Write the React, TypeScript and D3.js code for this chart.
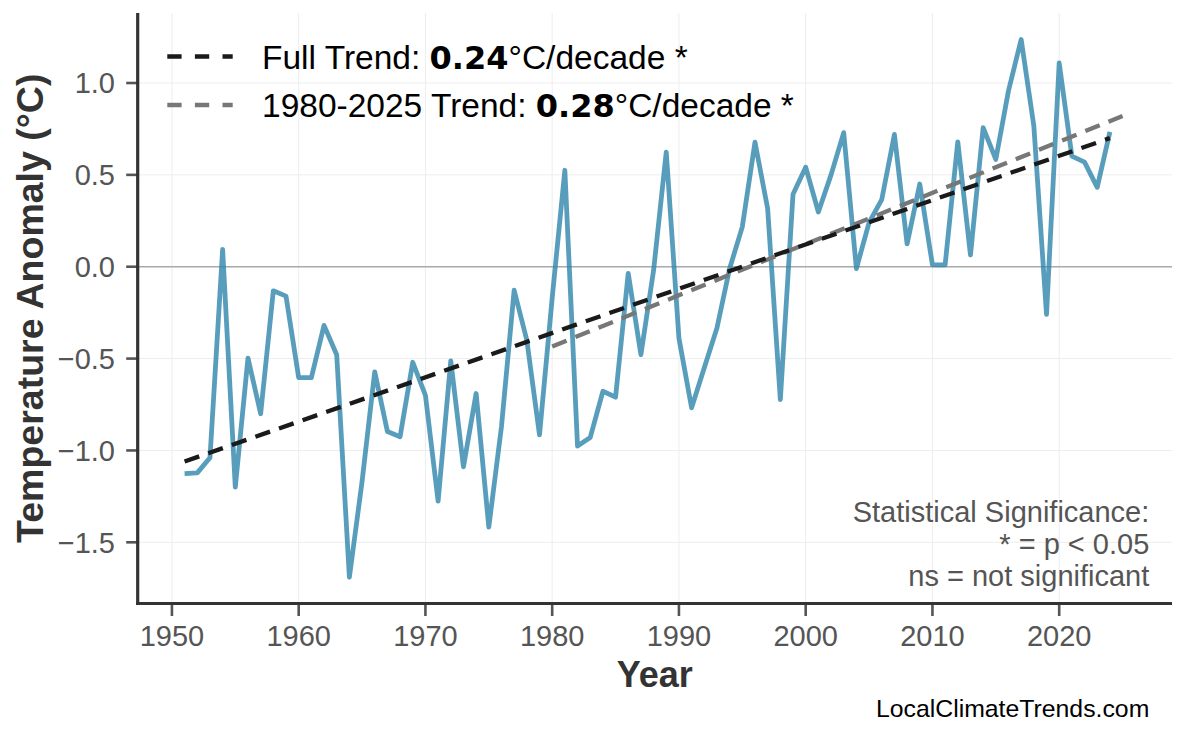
import React from "react";
import * as d3 from "d3";

const years: number[] = d3.range(1951, 2025);
const anomalies: number[] = [
  -1.126, -1.122, -1.04, 0.094, -1.2, -0.497, -0.8, -0.131, -0.16, -0.604,
  -0.604, -0.319, -0.479, -1.69, -1.17, -0.572, -0.897, -0.925, -0.52, -0.7,
  -1.276, -0.512, -1.089, -0.69, -1.417, -0.87, -0.128, -0.4, -0.915, -0.17,
  0.525, -0.976, -0.93, -0.678, -0.71, -0.036, -0.479, -0.02, 0.624, -0.389,
  -0.768, -0.55, -0.334, -0.01, 0.217, 0.678, 0.316, -0.723, 0.394, 0.542,
  0.298, 0.5, 0.73, -0.01, 0.24, 0.365, 0.72, 0.124, 0.45, 0.01,
  0.01, 0.68, 0.064, 0.757, 0.584, 0.958, 1.237, 0.766, -0.259, 1.109,
  0.602, 0.569, 0.432, 0.734,
];

const fullTrendYears: number[] = [1951, 2024];
const fullTrendValues: number[] = [-1.06, 0.7];
const recentTrendYears: number[] = [1980, 2025];
const recentTrendValues: number[] = [-0.434, 0.82];

const xTicks: number[] = [1950, 1960, 1970, 1980, 1990, 2000, 2010, 2020];
const yTicks: number[] = [-1.5, -1.0, -0.5, 0.0, 0.5, 1.0];

const legendItems = [
  { prefix: "Full Trend: ", value: "0.24", suffix: "°C/decade *", color: "#1a1a1a" },
  { prefix: "1980-2025 Trend: ", value: "0.28", suffix: "°C/decade *", color: "#777777" },
];
const noteLines: string[] = ["Statistical Significance:", "* = p < 0.05", "ns = not significant"];

const W = 1186;
const H = 737;
const left = 137.7;
const right = 1172;
const top = 13;
const bottom = 603.5;
const FONT = "'Liberation Sans', Arial, Helvetica, sans-serif";

export default function App() {
  const x = d3.scaleLinear().domain([1947.3, 2028.9]).range([left, right]);
  const y = d3.scaleLinear().domain([-1.833, 1.381]).range([bottom, top]);
  const fmt = d3.format(".1f");

  const line = d3
    .line<[number, number]>()
    .x((d) => x(d[0]))
    .y((d) => y(d[1]));

  const series: [number, number][] = years.map((yr, i) => [yr, anomalies[i]]);
  const fullTrend: [number, number][] = fullTrendYears.map((yr, i) => [yr, fullTrendValues[i]]);
  const recentTrend: [number, number][] = recentTrendYears.map((yr, i) => [yr, recentTrendValues[i]]);

  return (
    <svg
      width={W}
      height={H}
      viewBox={`0 0 ${W} ${H}`}
      style={{ position: "absolute", left: 0, top: 0, background: "#fff" }}
      fontFamily={FONT}
    >
      <rect x={0} y={0} width={W} height={H} fill="#fff" />
      {/* grid */}
      <g stroke="#ededed" strokeWidth={1}>
        {xTicks.map((t) => (
          <line key={"gx" + t} x1={x(t)} x2={x(t)} y1={top} y2={bottom} />
        ))}
        {yTicks.map((t) => (
          <line key={"gy" + t} x1={left} x2={right} y1={y(t)} y2={y(t)} />
        ))}
      </g>
      {/* zero line */}
      <line x1={left} x2={right} y1={y(0)} y2={y(0)} stroke="#aaaaaa" strokeWidth={1.6} />

      {/* data line */}
      <path
        d={line(series) || ""}
        fill="none"
        stroke="#2E86AB"
        strokeOpacity={0.8}
        strokeWidth={4.8}
        strokeLinejoin="round"
      />
      {/* trends */}
      <path
        d={line(recentTrend) || ""}
        fill="none"
        stroke="#777777"
        strokeWidth={4.3}
        strokeDasharray="15.5 9.5"
      />
      <path
        d={line(fullTrend) || ""}
        fill="none"
        stroke="#1a1a1a"
        strokeWidth={4.3}
        strokeDasharray="15.5 9.5"
      />

      {/* axes */}
      <g stroke="#555" strokeWidth={2.6}>
        {xTicks.map((t) => (
          <line key={"tx" + t} x1={x(t)} x2={x(t)} y1={bottom} y2={bottom + 12.5} />
        ))}
        {yTicks.map((t) => (
          <line key={"ty" + t} x1={left} x2={left - 11.5} y1={y(t)} y2={y(t)} />
        ))}
      </g>
      <line x1={left} x2={left} y1={top} y2={bottom + 1.6} stroke="#333" strokeWidth={3.2} />
      <line x1={left - 1.6} x2={right} y1={bottom} y2={bottom} stroke="#333" strokeWidth={3.2} />

      <g fill="#555" fontSize={29}>
        {xTicks.map((t) => (
          <text key={"lx" + t} x={x(t)} y={646} textAnchor="middle">
            {String(t)}
          </text>
        ))}
        {yTicks.map((t) => (
          <text key={"ly" + t} x={115} y={y(t)} dy="0.36em" textAnchor="end">
            {fmt(t)}
          </text>
        ))}
      </g>

      {/* axis titles */}
      <text
        x={(left + right) / 2}
        y={687}
        textAnchor="middle"
        fontWeight="bold"
        fontSize={36}
        fill="#333"
      >
        Year
      </text>
      <text
        transform={`translate(43,${(top + bottom) / 2}) rotate(-90)`}
        textAnchor="middle"
        fontWeight="bold"
        fontSize={37.5}
        fill="#333"
      >
        Temperature Anomaly (°C)
      </text>

      {/* legend */}
      {legendItems.map((it, i) => (
        <g key={"lg" + i}>
          <line
            x1={167.3}
            x2={232.7}
            y1={56.5 + i * 48.5}
            y2={56.5 + i * 48.5}
            stroke={it.color}
            strokeWidth={4.5}
            strokeDasharray="14.3 13.3"
          />
          <text x={262} y={69.3 + i * 48} fontSize={33.5} fill="#000">
            {it.prefix}
            <tspan fontWeight="bold" fontFamily="'DejaVu Sans', sans-serif" fontSize={32}>
              {it.value}
            </tspan>
            {it.suffix}
          </text>
        </g>
      ))}

      {/* significance note */}
      <g fill="#555" fontSize={29} textAnchor="end">
        {noteLines.map((s, i) => (
          <text key={"n" + i} x={1149.3} y={521.7 + i * 32.2}>
            {s}
          </text>
        ))}
      </g>

      <text x={1149.3} y={716.7} textAnchor="end" fontSize={24.8} fill="#000">
        LocalClimateTrends.com
      </text>
    </svg>
  );
}
